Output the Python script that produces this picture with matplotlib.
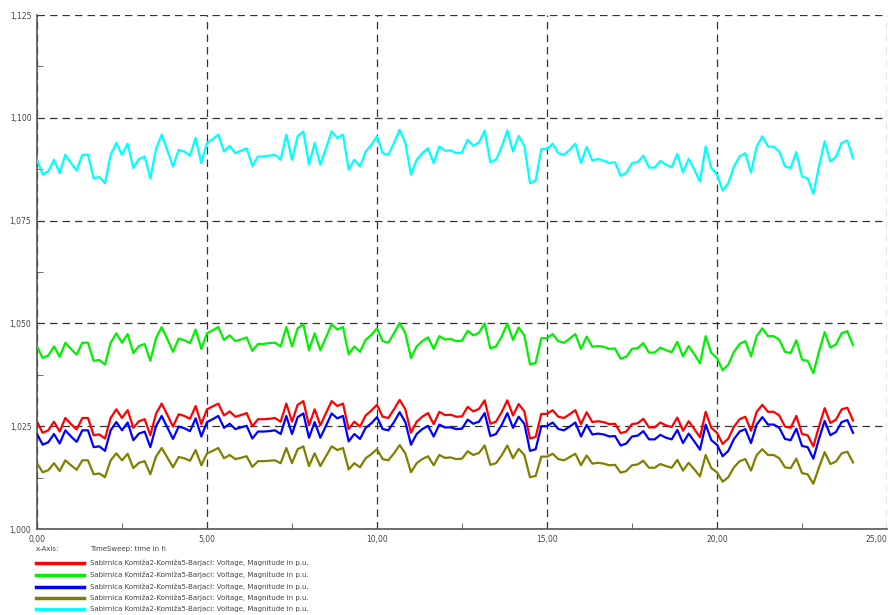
import numpy as np
import matplotlib
matplotlib.use('Agg')
import matplotlib.pyplot as plt
from matplotlib.ticker import MultipleLocator, FuncFormatter

# time sweep, 10 min steps over one day
t = np.arange(0, 145) / 6.0

red = [1.0261, 1.0234, 1.0240, 1.0261, 1.0237, 1.0270, 1.0255, 1.0242, 1.0270, 1.0270,
       1.0228, 1.0230, 1.0220, 1.0270, 1.0291, 1.0270, 1.0289, 1.0246, 1.0262, 1.0267,
       1.0228, 1.0280, 1.0305, 1.0278, 1.0249, 1.0279, 1.0275, 1.0268, 1.0299, 1.0255,
       1.0291, 1.0298, 1.0305, 1.0276, 1.0286, 1.0273, 1.0277, 1.0282, 1.0250, 1.0267,
       1.0267, 1.0268, 1.0270, 1.0261, 1.0305, 1.0261, 1.0302, 1.0311, 1.0252, 1.0291,
       1.0252, 1.0282, 1.0311, 1.0299, 1.0305, 1.0243, 1.0261, 1.0249, 1.0276, 1.0288,
       1.0302, 1.0273, 1.0270, 1.0291, 1.0314, 1.0291, 1.0234, 1.0261, 1.0273, 1.0282,
       1.0255, 1.0285, 1.0277, 1.0278, 1.0273, 1.0274, 1.0297, 1.0286, 1.0292, 1.0313,
       1.0256, 1.0261, 1.0284, 1.0313, 1.0276, 1.0304, 1.0286, 1.0220, 1.0224, 1.0280,
       1.0280, 1.0289, 1.0273, 1.0270, 1.0279, 1.0289, 1.0255, 1.0284, 1.0260, 1.0262,
       1.0260, 1.0255, 1.0256, 1.0233, 1.0237, 1.0255, 1.0257, 1.0268, 1.0247, 1.0247,
       1.0259, 1.0252, 1.0248, 1.0271, 1.0239, 1.0262, 1.0243, 1.0223, 1.0285, 1.0246,
       1.0234, 1.0207, 1.0220, 1.0249, 1.0267, 1.0273, 1.0239, 1.0285, 1.0302, 1.0285,
       1.0285, 1.0276, 1.0249, 1.0246, 1.0275, 1.0231, 1.0228, 1.0201, 1.0249, 1.0294,
       1.0258, 1.0266, 1.0291, 1.0295, 1.0264]

green = [1.0444, 1.0416, 1.0422, 1.0444, 1.0419, 1.0453, 1.0438, 1.0424, 1.0453, 1.0453,
         1.0409, 1.0411, 1.0400, 1.0453, 1.0476, 1.0453, 1.0474, 1.0428, 1.0445, 1.0450,
         1.0409, 1.0464, 1.0491, 1.0462, 1.0431, 1.0463, 1.0459, 1.0452, 1.0485, 1.0438,
         1.0476, 1.0483, 1.0491, 1.0460, 1.0471, 1.0457, 1.0461, 1.0466, 1.0433, 1.0450,
         1.0450, 1.0452, 1.0453, 1.0444, 1.0491, 1.0444, 1.0488, 1.0498, 1.0435, 1.0476,
         1.0435, 1.0466, 1.0498, 1.0485, 1.0491, 1.0425, 1.0444, 1.0431, 1.0460, 1.0472,
         1.0488, 1.0457, 1.0453, 1.0476, 1.0501, 1.0476, 1.0416, 1.0444, 1.0457, 1.0466,
         1.0438, 1.0469, 1.0461, 1.0462, 1.0457, 1.0458, 1.0482, 1.0471, 1.0477, 1.0500,
         1.0439, 1.0444, 1.0468, 1.0500, 1.0460, 1.0490, 1.0471, 1.0400, 1.0404, 1.0464,
         1.0464, 1.0474, 1.0457, 1.0453, 1.0463, 1.0474, 1.0438, 1.0468, 1.0443, 1.0445,
         1.0443, 1.0438, 1.0439, 1.0414, 1.0419, 1.0438, 1.0440, 1.0452, 1.0429, 1.0429,
         1.0441, 1.0435, 1.0430, 1.0455, 1.0420, 1.0445, 1.0425, 1.0403, 1.0469, 1.0428,
         1.0416, 1.0386, 1.0400, 1.0431, 1.0450, 1.0457, 1.0420, 1.0469, 1.0488, 1.0469,
         1.0469, 1.0460, 1.0431, 1.0428, 1.0459, 1.0412, 1.0409, 1.0379, 1.0431, 1.0479,
         1.0441, 1.0449, 1.0476, 1.0481, 1.0447]

blue = [1.0231, 1.0205, 1.0211, 1.0231, 1.0208, 1.0240, 1.0225, 1.0212, 1.0240, 1.0240,
        1.0199, 1.0201, 1.0190, 1.0240, 1.0260, 1.0240, 1.0259, 1.0216, 1.0232, 1.0237,
        1.0199, 1.0250, 1.0275, 1.0247, 1.0219, 1.0249, 1.0245, 1.0238, 1.0269, 1.0225,
        1.0260, 1.0267, 1.0275, 1.0246, 1.0256, 1.0243, 1.0247, 1.0251, 1.0220, 1.0237,
        1.0237, 1.0238, 1.0240, 1.0231, 1.0275, 1.0231, 1.0272, 1.0281, 1.0222, 1.0260,
        1.0222, 1.0251, 1.0281, 1.0269, 1.0275, 1.0213, 1.0231, 1.0219, 1.0246, 1.0257,
        1.0272, 1.0243, 1.0240, 1.0260, 1.0284, 1.0260, 1.0205, 1.0231, 1.0243, 1.0251,
        1.0225, 1.0254, 1.0247, 1.0247, 1.0243, 1.0244, 1.0266, 1.0256, 1.0261, 1.0282,
        1.0226, 1.0231, 1.0253, 1.0282, 1.0246, 1.0273, 1.0256, 1.0190, 1.0194, 1.0250,
        1.0250, 1.0259, 1.0243, 1.0240, 1.0249, 1.0259, 1.0225, 1.0253, 1.0230, 1.0232,
        1.0230, 1.0225, 1.0226, 1.0203, 1.0208, 1.0225, 1.0227, 1.0238, 1.0218, 1.0218,
        1.0229, 1.0222, 1.0218, 1.0241, 1.0209, 1.0232, 1.0213, 1.0193, 1.0254, 1.0216,
        1.0205, 1.0177, 1.0190, 1.0219, 1.0237, 1.0243, 1.0209, 1.0254, 1.0272, 1.0254,
        1.0254, 1.0246, 1.0219, 1.0216, 1.0244, 1.0202, 1.0199, 1.0171, 1.0219, 1.0263,
        1.0228, 1.0236, 1.0260, 1.0265, 1.0234]

olive = [1.0160, 1.0138, 1.0143, 1.0160, 1.0141, 1.0167, 1.0155, 1.0144, 1.0167, 1.0167,
         1.0133, 1.0135, 1.0126, 1.0167, 1.0184, 1.0167, 1.0183, 1.0148, 1.0161, 1.0165,
         1.0133, 1.0176, 1.0197, 1.0174, 1.0150, 1.0175, 1.0172, 1.0166, 1.0192, 1.0155,
         1.0184, 1.0190, 1.0197, 1.0172, 1.0180, 1.0170, 1.0173, 1.0177, 1.0151, 1.0165,
         1.0165, 1.0166, 1.0167, 1.0160, 1.0197, 1.0160, 1.0194, 1.0201, 1.0153, 1.0184,
         1.0153, 1.0177, 1.0201, 1.0192, 1.0197, 1.0145, 1.0160, 1.0150, 1.0172, 1.0182,
         1.0194, 1.0170, 1.0167, 1.0184, 1.0204, 1.0184, 1.0138, 1.0160, 1.0170, 1.0177,
         1.0155, 1.0180, 1.0173, 1.0174, 1.0170, 1.0171, 1.0189, 1.0180, 1.0185, 1.0203,
         1.0156, 1.0160, 1.0179, 1.0203, 1.0172, 1.0195, 1.0180, 1.0126, 1.0129, 1.0176,
         1.0176, 1.0183, 1.0170, 1.0167, 1.0175, 1.0183, 1.0155, 1.0179, 1.0159, 1.0161,
         1.0159, 1.0155, 1.0156, 1.0137, 1.0141, 1.0155, 1.0157, 1.0166, 1.0149, 1.0149,
         1.0158, 1.0153, 1.0149, 1.0168, 1.0142, 1.0161, 1.0145, 1.0128, 1.0180, 1.0148,
         1.0138, 1.0115, 1.0126, 1.0150, 1.0165, 1.0170, 1.0142, 1.0180, 1.0194, 1.0180,
         1.0180, 1.0172, 1.0150, 1.0148, 1.0171, 1.0136, 1.0133, 1.0110, 1.0150, 1.0187,
         1.0158, 1.0164, 1.0184, 1.0188, 1.0162]

cyan = [1.0898, 1.0862, 1.0870, 1.0898, 1.0866, 1.0910, 1.0890, 1.0872, 1.0910, 1.0910,
        1.0853, 1.0856, 1.0841, 1.0910, 1.0939, 1.0910, 1.0937, 1.0878, 1.0900, 1.0906,
        1.0853, 1.0924, 1.0959, 1.0921, 1.0882, 1.0922, 1.0918, 1.0908, 1.0951, 1.0890,
        1.0939, 1.0948, 1.0959, 1.0918, 1.0932, 1.0914, 1.0920, 1.0926, 1.0883, 1.0906,
        1.0906, 1.0908, 1.0910, 1.0898, 1.0959, 1.0898, 1.0955, 1.0967, 1.0886, 1.0939,
        1.0886, 1.0926, 1.0967, 1.0951, 1.0959, 1.0874, 1.0898, 1.0882, 1.0918, 1.0934,
        1.0955, 1.0914, 1.0910, 1.0939, 1.0971, 1.0939, 1.0862, 1.0898, 1.0914, 1.0926,
        1.0890, 1.0930, 1.0920, 1.0921, 1.0914, 1.0916, 1.0947, 1.0932, 1.0940, 1.0969,
        1.0892, 1.0898, 1.0929, 1.0969, 1.0918, 1.0956, 1.0932, 1.0841, 1.0847, 1.0924,
        1.0924, 1.0937, 1.0914, 1.0910, 1.0922, 1.0937, 1.0890, 1.0929, 1.0896, 1.0900,
        1.0896, 1.0890, 1.0892, 1.0859, 1.0866, 1.0890, 1.0892, 1.0908, 1.0879, 1.0879,
        1.0895, 1.0886, 1.0880, 1.0912, 1.0867, 1.0900, 1.0874, 1.0845, 1.0930, 1.0878,
        1.0862, 1.0823, 1.0841, 1.0882, 1.0906, 1.0914, 1.0867, 1.0930, 1.0955, 1.0930,
        1.0930, 1.0918, 1.0882, 1.0878, 1.0917, 1.0857, 1.0853, 1.0815, 1.0882, 1.0943,
        1.0894, 1.0905, 1.0939, 1.0945, 1.0902]

series = [red, green, blue, olive, cyan]
colors = ['#ff0000', '#00f000', '#0000ff', '#808000', '#00ffff']
label = 'Sabirnica Komiža2-Komiža5-Barjaci: Voltage, Magnitude in p.u.'
xticks = [0, 5, 10, 15, 20, 25]

fig = plt.figure(figsize=(8.93, 6.15), dpi=100)
ax = fig.add_axes([37/893, 1 - 529/615, 850/893, 514/615])

for y, c in zip(series, colors):
    ax.plot(t, y, color=c, lw=1.6, zorder=3)

ax.set_xlim(0, 25)
ax.set_ylim(1.0, 1.125)
ax.set_xticks(xticks)
ax.set_xticklabels([('%.2f' % v).replace('.', ',') for v in xticks])
ax.xaxis.set_minor_locator(MultipleLocator(2.5))
ax.yaxis.set_major_locator(MultipleLocator(0.025))
ax.yaxis.set_minor_locator(MultipleLocator(0.0125))
ax.yaxis.set_major_formatter(FuncFormatter(lambda v, p: ('%.3f' % v).replace('.', ',')))
ax.tick_params(which='both', direction='in', labelsize=5.5, colors='#555555', labelcolor='#444444')
ax.tick_params(which='major', length=0, pad=4)
ax.tick_params(which='minor', length=4)
ax.grid(True, which='major', color='#333333', ls=(0, (6, 4)), lw=0.9, zorder=1)
# last x label pulled in so it stays on the canvas
ax.get_xticklabels()[-1].set_ha('right')
ax.get_xticklabels()[-1].set_x(25.2)

for s in ['top', 'right']:
    ax.spines[s].set_visible(False)
for s in ['left', 'bottom']:
    ax.spines[s].set_color('#555555')
    ax.spines[s].set_linewidth(1.2)

# legend block under the plot
fs = 5.0
fig.text(36/893, 1 - 549/615, 'x-Axis:', fontsize=fs, color='#444444', va='center')
fig.text(90/893, 1 - 549/615, 'TimeSweep: time in h', fontsize=fs, color='#444444', va='center')
rows = [563, 575, 587, 598, 609]
for r, c in zip(rows, colors):
    yy = 1 - r/615
    fig.add_artist(plt.Line2D([36/893, 84/893], [yy, yy], color=c, lw=2.5))
    fig.text(90/893, yy, label, fontsize=fs, color='#444444', va='center')

fig.savefig('out.png', dpi=100)
